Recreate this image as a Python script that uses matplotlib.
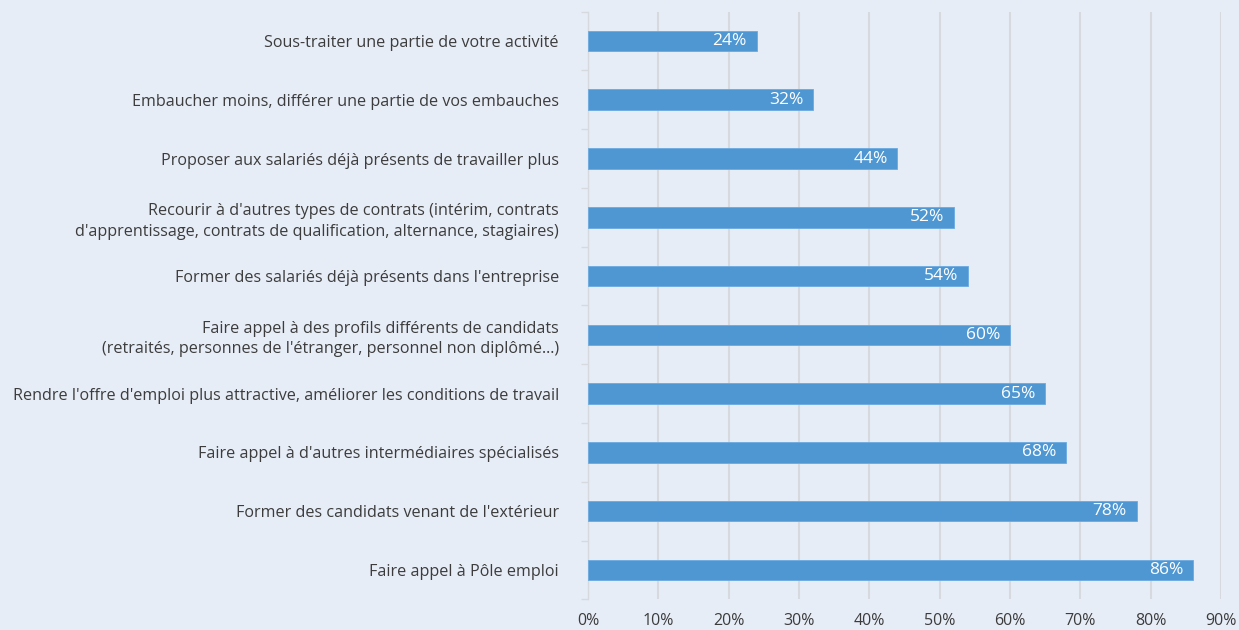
import matplotlib
matplotlib.use("Agg")
import matplotlib.pyplot as plt
from matplotlib.ticker import MultipleLocator, FuncFormatter

categories = [
    "Sous-traiter une partie de votre activité",
    "Embaucher moins, différer une partie de vos embauches",
    "Proposer aux salariés déjà présents de travailler plus",
    "Recourir à d'autres types de contrats (intérim, contrats\nd'apprentissage, contrats de qualification, alternance, stagiaires)",
    "Former des salariés déjà présents dans l'entreprise",
    "Faire appel à des profils différents de candidats\n(retraités, personnes de l'étranger, personnel non diplômé...)",
    "Rendre l'offre d'emploi plus attractive, améliorer les conditions de travail",
    "Faire appel à d'autres intermédiaires spécialisés",
    "Former des candidats venant de l'extérieur",
    "Faire appel à Pôle emploi",
]
values = [24, 32, 44, 52, 54, 60, 65, 68, 78, 86]

bg = "#E7EDF7"
bar_color = "#4F97D2"
text_color = "#3C3C3C"
grid_color = "#D6D9DE"

plt.rcParams["font.family"] = ["Open Sans", "DejaVu Sans"]

fig = plt.figure(figsize=(12.39, 6.30), dpi=100, facecolor=bg)
ax = fig.add_axes([0.4746, 0.0486, 0.9855 - 0.4746, 0.9816 - 0.0486])
ax.set_facecolor(bg)

y = list(range(len(categories)))
ax.barh(y, values, height=0.35, color=bar_color, edgecolor="#6AAAE0", linewidth=0.6, zorder=3)
ax.set_ylim(len(categories) - 0.5, -0.5)
ax.set_xlim(0, 90)

for yi, v in zip(y, values):
    ax.text(v - 1.4, yi, f"{v}%", ha="right", va="center", color="white", fontsize=12.5, zorder=4)

ax.set_yticks(y)
ax.set_yticklabels(categories, fontsize=11.6, color=text_color, linespacing=1.35)
ax.tick_params(axis="y", which="major", length=0, pad=21)
ax.set_yticks([i - 0.5 for i in range(len(categories) + 1)], minor=True)
ax.tick_params(axis="y", which="minor", length=5, color=grid_color, width=1)

ax.xaxis.set_major_locator(MultipleLocator(10))
ax.xaxis.set_major_formatter(FuncFormatter(lambda x, p: f"{int(round(x))}%"))
ax.tick_params(axis="x", length=0, labelsize=11.5, labelcolor=text_color, pad=10)
ax.grid(axis="x", color=grid_color, linewidth=1.5, zorder=0)

for s in ["top", "right", "bottom"]:
    ax.spines[s].set_visible(False)
ax.spines["left"].set_color(grid_color)
ax.spines["left"].set_linewidth(1)

fig.savefig("out.png", dpi=100, facecolor=bg)
